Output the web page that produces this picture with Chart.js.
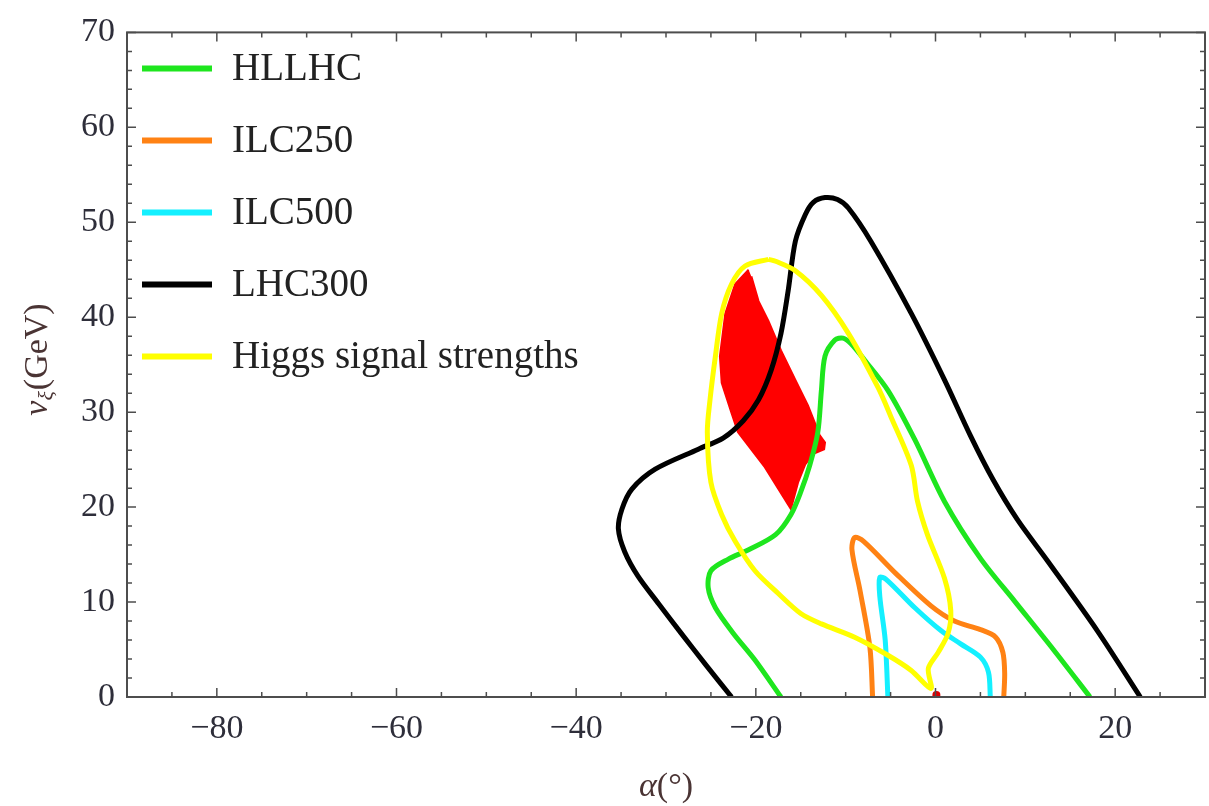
<!DOCTYPE html>
<html lang="en">
<head>
<meta charset="UTF-8">
<title>Constraints on alpha and v_xi</title>
<script src="https://cdn.jsdelivr.net/npm/chart.js"></script>
<style>
  html, body { margin: 0; padding: 0; background: #fff; }
  .wrap { width: 1209px; height: 806px; position: relative; }
</style>
</head>
<body>
<div class="wrap"><canvas id="contourChart"></canvas></div>
<script>
// axis ticks
const xTickValues = [-80, -60, -40, -20, 0, 20];
const yTickValues = [0, 10, 20, 30, 40, 50, 60, 70];

// HLLHC (green)
const hllhcX = [-17.2, -20.1, -22.5, -24.5, -25.3, -25.0, -23.1, -20.8, -17.8, -16.1, -15.0, -14.0, -13.1, -12.7, -12.3, -11.2, -10.3, -9.4, -7.9, -5.3, -2.3, 1.0, 5.0, 8.8, 13.2, 17.2];
const hllhcY = [0, 3.9, 6.7, 9.4, 11.5, 13.3, 14.5, 15.5, 17.1, 19.2, 21.6, 24.4, 27.9, 32.3, 35.9, 37.6, 37.8, 37.2, 35.5, 32.3, 27.1, 20.6, 14.6, 10.1, 4.9, 0];

// ILC250 (orange)
const ilc250X = [-7.0, -7.3, -8.4, -9.3, -9.0, -8.0, -4.4, -0.5, 2.1, 5.0, 6.7, 7.5, 7.7, 7.6];
const ilc250Y = [0, 5.2, 11.2, 15.5, 16.8, 16.4, 13.0, 9.6, 8.0, 7.1, 6.3, 4.7, 2.5, 0];

// ILC500 (cyan)
const ilc500X = [-5.3, -5.6, -6.2, -6.2, -5.5, -2.3, 0.6, 2.8, 5.0, 5.9, 6.1];
const ilc500Y = [0, 6.0, 10.6, 12.6, 12.4, 9.4, 7.0, 5.6, 4.2, 2.6, 0];

// LHC300 (black)
const lhc300X = [-22.7, -25.5, -28.3, -30.8, -33.1, -34.6, -35.3, -34.9, -33.8, -31.2, -26.4, -23.6, -21.4, -19.7, -18.3, -17.2, -16.4, -15.6, -14.5, -13.6, -12.3, -10.9, -9.7, -7.2, -2.7, 1.0, 3.9, 6.4, 9.1, 12.5, 18.0, 22.8];
const lhc300Y = [0, 3.3, 6.7, 9.8, 12.7, 15.3, 17.7, 19.8, 21.9, 24.0, 26.1, 27.3, 29.1, 31.3, 34.4, 38.3, 42.8, 48.0, 50.8, 52.1, 52.6, 52.4, 51.5, 48.0, 40.4, 33.4, 27.5, 22.9, 18.7, 14.3, 7.0, 0];

// Higgs signal strengths (yellow, closed)
const higgsX = [-18.6, -21.2, -22.7, -23.8, -24.5, -25.1, -25.4, -25.0, -23.8, -22.3, -20.1, -17.5, -15.0, -12.7, -9.0, -5.3, -2.7, -0.5, -0.8, 0.3, 1.4, 1.7, 1.0, -0.9, -2.0, -2.7, -5.0, -6.4, -9.7, -12.7, -15.6, -17.8, -18.6];
const higgsY = [46.1, 45.4, 43.5, 40.4, 35.9, 31.3, 27.9, 22.6, 19.2, 16.4, 13.3, 10.9, 8.8, 7.7, 6.3, 4.4, 2.8, 0.9, 3.0, 4.7, 6.7, 9.1, 12.5, 17.1, 20.6, 24.4, 29.6, 32.6, 38.3, 42.3, 44.9, 45.9, 46.1];

// allowed region (red, filled)
const allowedX = [-20.8, -22.3, -23.4, -24.0, -23.8, -22.7, -22.0, -19.0, -16.1, -15.3, -14.5, -13.6, -12.4, -12.3, -12.9, -14.2, -15.6, -17.2, -18.6, -19.7, -20.5];
const allowedY = [45.0, 43.5, 40.4, 35.9, 33.1, 29.9, 27.9, 24.2, 19.8, 22.6, 24.5, 25.6, 26.1, 26.8, 27.6, 30.7, 33.4, 36.5, 39.6, 41.7, 44.3];
const dotX = [0.1];
const dotY = [0.2];

const serif = "'Liberation Serif', 'DejaVu Serif', serif";
const legendLabels = ['HLLHC', 'ILC250', 'ILC500', 'LHC300', 'Higgs signal strengths'];

const toPoints = (xs, ys) => xs.map((v, i) => ({ x: v, y: ys[i] }));

function curve(label, xs, ys, color, order) {
  return {
    label: label,
    data: toPoints(xs, ys),
    showLine: true,
    borderColor: color,
    backgroundColor: color,
    borderWidth: 5,
    pointRadius: 0,
    tension: 0.3,
    fill: false,
    order: order
  };
}

// frame with inward ticks, legend and axis titles
const framePlugin = {
  id: 'frame',
  afterDatasetsDraw(chart) {
    const { ctx, chartArea: a, scales: { x, y } } = chart;
    ctx.save();
    ctx.strokeStyle = '#4d4d4d';
    ctx.lineWidth = 2;
    ctx.strokeRect(a.left, a.top, a.right - a.left, a.bottom - a.top);
    ctx.lineWidth = 1.5;
    ctx.beginPath();
    for (let v = -90; v <= 30; v += 5) {
      const px = x.getPixelForValue(v);
      const len = xTickValues.includes(v) ? 9 : 5;
      ctx.moveTo(px, a.bottom); ctx.lineTo(px, a.bottom - len);
      ctx.moveTo(px, a.top); ctx.lineTo(px, a.top + len);
    }
    for (let v = 0; v <= 70; v += 2) {
      const py = y.getPixelForValue(v);
      const len = yTickValues.includes(v) ? 9 : 5;
      ctx.moveTo(a.left, py); ctx.lineTo(a.left + len, py);
      ctx.moveTo(a.right, py); ctx.lineTo(a.right - len, py);
    }
    ctx.stroke();
    ctx.restore();
  },
  afterDraw(chart) {
    const { ctx, chartArea: a } = chart;
    ctx.save();
    // legend
    legendLabels.forEach((lab, i) => {
      const ds = chart.data.datasets.find(d => d.label === lab);
      const cy = a.top + 36 + i * 72;
      ctx.strokeStyle = ds.borderColor;
      ctx.lineWidth = 6;
      ctx.beginPath();
      ctx.moveTo(a.left + 15, cy);
      ctx.lineTo(a.left + 85, cy);
      ctx.stroke();
      ctx.fillStyle = '#222';
      ctx.font = '39px ' + serif;
      ctx.textBaseline = 'middle';
      ctx.textAlign = 'left';
      ctx.fillText(lab, a.left + 105, cy + 1);
    });
    // x title
    ctx.fillStyle = '#4a3434';
    ctx.textBaseline = 'middle';
    ctx.font = 'italic 34px ' + serif;
    const aW = ctx.measureText('\u03B1').width;
    ctx.font = '34px ' + serif;
    const restW = ctx.measureText('(\u00B0)').width;
    let tx = (a.left + a.right) / 2 - (aW + restW) / 2;
    ctx.font = 'italic 34px ' + serif;
    ctx.fillText('\u03B1', tx, 787);
    ctx.font = '34px ' + serif;
    ctx.fillText('(\u00B0)', tx + aW, 787);
    // y title
    ctx.translate(38, 360);
    ctx.rotate(-Math.PI / 2);
    ctx.font = 'italic 34px ' + serif;
    const vW = ctx.measureText('v').width;
    ctx.font = 'italic 22px ' + serif;
    const xiW = ctx.measureText('\u03BE').width;
    ctx.font = '34px ' + serif;
    const gW = ctx.measureText('(GeV)').width;
    let sx = -(vW + xiW + gW) / 2;
    ctx.font = 'italic 34px ' + serif;
    ctx.fillText('v', sx, 0);
    ctx.font = 'italic 22px ' + serif;
    ctx.fillText('\u03BE', sx + vW, 9);
    ctx.font = '34px ' + serif;
    ctx.fillText('(GeV)', sx + vW + xiW + 1, 0);
    ctx.restore();
  }
};

const minusFmt = v => (v < 0 ? '\u2212' + Math.abs(v) : String(v));

new Chart(document.getElementById('contourChart'), {
  type: 'scatter',
  data: {
    datasets: [
      curve('HLLHC', hllhcX, hllhcY, '#1ee61e', 4),
      curve('ILC250', ilc250X, ilc250Y, '#ff8214', 3),
      curve('ILC500', ilc500X, ilc500Y, '#14f0ff', 2),
      curve('LHC300', lhc300X, lhc300Y, '#000000', 1),
      curve('Higgs signal strengths', higgsX, higgsY, '#ffff00', 0),
      {
        label: 'allowed',
        data: toPoints(allowedX, allowedY),
        showLine: true,
        borderColor: '#ff0000',
        backgroundColor: '#ff0000',
        borderWidth: 2,
        pointRadius: 0,
        tension: 0,
        fill: 'shape',
        order: 10
      },
      {
        label: 'point',
        data: toPoints(dotX, dotY),
        pointRadius: 4,
        pointBackgroundColor: '#dd0000',
        pointBorderWidth: 0,
        order: 9
      }
    ]
  },
  options: {
    responsive: true,
    maintainAspectRatio: false,
    animation: false,
    layout: { padding: { top: 26, right: 1, left: 0, bottom: 0 } },
    plugins: {
      legend: { display: false },
      tooltip: { enabled: false }
    },
    scales: {
      x: {
        type: 'linear',
        min: -90,
        max: 30,
        grid: { display: false, drawTicks: false },
        border: { display: false },
        afterBuildTicks: s => { s.ticks = xTickValues.map(v => ({ value: v })); },
        afterFit: s => { s.height = 109; },
        ticks: {
          padding: 12,
          color: '#2e2e3a',
          autoSkip: false,
          maxRotation: 0,
          font: { family: serif, size: 34 },
          callback: minusFmt
        }
      },
      y: {
        type: 'linear',
        min: 0,
        max: 70,
        grid: { display: false, drawTicks: false },
        border: { display: false },
        afterBuildTicks: s => { s.ticks = yTickValues.map(v => ({ value: v })); },
        afterFit: s => { s.width = 127; },
        ticks: {
          padding: 12,
          color: '#2e2e3a',
          autoSkip: false,
          font: { family: serif, size: 34 }
        }
      }
    }
  },
  plugins: [framePlugin]
});
</script>
</body>
</html>
